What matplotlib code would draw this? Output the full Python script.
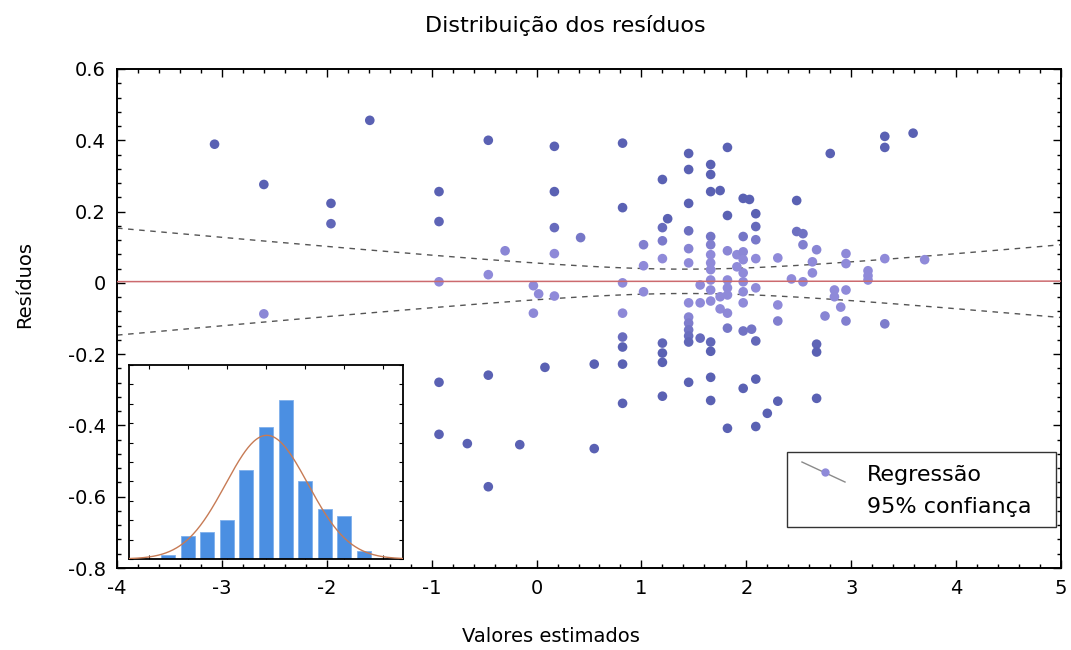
import numpy as np
import matplotlib
matplotlib.use("Agg")
import matplotlib.pyplot as plt
from matplotlib.ticker import MultipleLocator, FuncFormatter
from matplotlib.patches import Rectangle
from matplotlib.lines import Line2D
from matplotlib.colors import LinearSegmentedColormap

plt.rcParams['font.family'] = ['DejaVu Sans']
plt.rcParams['axes.unicode_minus'] = False

# ---- data: fitted values (x) and residuals (y) ----
fitted = [
    -3.07, -2.60, -2.60, -1.96, -1.96, -1.59,
    -0.93, -0.93, -0.93, -0.93, -0.93, -0.66,
    -0.46, -0.46, -0.46, -0.46, -0.30, -0.16,
    -0.03, -0.03, 0.02, 0.08,
    0.17, 0.17, 0.17, 0.17, 0.17, 0.42, 0.55, 0.55,
    0.82, 0.82, 0.82, 0.82, 0.82, 0.82, 0.82, 0.82,
    1.02, 1.02, 1.02,
    1.20, 1.20, 1.20, 1.20, 1.20, 1.20, 1.20, 1.20, 1.25,
    1.45, 1.45, 1.45, 1.45, 1.45, 1.45, 1.45, 1.45, 1.45, 1.45, 1.45, 1.45, 1.45,
    1.56, 1.56, 1.56,
    1.66, 1.66, 1.66, 1.66, 1.66, 1.66, 1.66, 1.66, 1.66, 1.66, 1.66, 1.66, 1.66, 1.66, 1.66,
    1.75, 1.75, 1.75,
    1.82, 1.82, 1.82, 1.82, 1.82, 1.82, 1.82, 1.82, 1.82,
    1.91, 1.91,
    1.97, 1.97, 1.97, 1.97, 1.97, 1.97, 1.97, 1.97, 1.97, 1.97,
    2.03, 2.05,
    2.09, 2.09, 2.09, 2.09, 2.09, 2.09, 2.09, 2.09,
    2.20,
    2.30, 2.30, 2.30, 2.30,
    2.43, 2.48, 2.48, 2.54, 2.54, 2.54, 2.63, 2.63,
    2.67, 2.67, 2.67, 2.67, 2.75, 2.80, 2.84, 2.84, 2.90,
    2.95, 2.95, 2.95, 2.95,
    3.16, 3.16, 3.16,
    3.32, 3.32, 3.32, 3.32, 3.59, 3.70,
]
residuals = [
    0.389, 0.276, -0.087, 0.223, 0.166, 0.456,
    0.256, 0.172, 0.003, -0.279, -0.425, -0.451,
    0.400, 0.023, -0.259, -0.572, 0.090, -0.454,
    -0.008, -0.085, -0.031, -0.237,
    0.383, 0.256, 0.155, 0.082, -0.037, 0.127, -0.228, -0.465,
    0.392, 0.211, 0.000, -0.085, -0.152, -0.180, -0.228, -0.338,
    0.107, 0.048, -0.025,
    0.290, 0.155, 0.118, 0.068, -0.169, -0.197, -0.223, -0.318, 0.180,
    0.363, 0.318, 0.223, 0.146, 0.096, 0.056, -0.056, -0.096, -0.113, -0.132, -0.149, -0.166, -0.279,
    -0.006, -0.056, -0.155,
    0.332, 0.304, 0.256, 0.130, 0.107, 0.079, 0.056, 0.037, 0.008, -0.020, -0.051, -0.166, -0.192, -0.265, -0.330,
    0.259, -0.039, -0.073,
    0.380, 0.189, 0.090, 0.008, -0.014, -0.034, -0.085, -0.127, -0.408,
    0.079, 0.045,
    0.237, 0.130, 0.087, 0.065, 0.028, 0.003, -0.025, -0.056, -0.135, -0.296,
    0.234, -0.130,
    0.194, 0.158, 0.121, 0.068, -0.014, -0.163, -0.270, -0.403,
    -0.366,
    0.070, -0.062, -0.107, -0.332,
    0.011, 0.231, 0.144, 0.138, 0.107, 0.003, 0.059, 0.028,
    0.093, -0.172, -0.194, -0.324, -0.093, 0.363, -0.020, -0.039, -0.068,
    0.082, 0.054, -0.020, -0.107,
    0.034, 0.020, 0.008,
    0.411, 0.380, 0.068, -0.115, 0.420, 0.065,
]

# inset histogram of residuals (bin centres and counts)
hist_centers = [-0.5, -0.4, -0.3, -0.2, -0.1, 0.0, 0.1, 0.2, 0.3, 0.4, 0.5]
hist_counts = [1, 6, 7, 10, 23, 34, 41, 20, 13, 11, 2]
hist_binwidth = 0.1

title = "Distribuição dos resíduos"
xlabel = "Valores estimados"
ylabel = "Resíduos"
legend_labels = ["Regressão", "95% confiança"]

x = np.array(fitted)
y = np.array(residuals)

W, H = 1071, 650
fig = plt.figure(figsize=(W / 100, H / 100), dpi=100)
fig.patch.set_facecolor('white')

def px_axes(l, t, r, b):
    return [l / W, 1 - b / H, (r - l) / W, (b - t) / H]

ax = fig.add_axes(px_axes(117, 69, 1061, 568))

# colours: darker for points far from zero, lighter near the line
cmap = LinearSegmentedColormap.from_list('pts', ['#8f8ad9', '#5a61b3'])
shade = np.clip((np.abs(y) - 0.08) / 0.1, 0, 1)
ax.scatter(x, y, s=48, c=cmap(shade), edgecolors='none', zorder=3)

# regression line and 95% confidence band computed from the data
n = len(x)
slope, intercept = np.polyfit(x, y, 1)
xx = np.linspace(-4, 5, 300)
yy = intercept + slope * xx
res = y - (intercept + slope * x)
s = np.sqrt(np.sum(res ** 2) / (n - 2))
sxx = np.sum((x - x.mean()) ** 2)
hw = 1.976 * s * np.sqrt(1 / n + (xx - x.mean()) ** 2 / sxx)
ax.plot(xx, yy, color='#cc6a6e', lw=1.1, zorder=4)
ax.plot(xx, yy + hw, color='#555555', lw=1.0, ls=(0, (4, 4)), zorder=2)
ax.plot(xx, yy - hw, color='#555555', lw=1.0, ls=(0, (4, 4)), zorder=2)

ax.set_xlim(-4, 5)
ax.set_ylim(-0.8, 0.6)
ax.xaxis.set_major_locator(MultipleLocator(1))
ax.xaxis.set_minor_locator(MultipleLocator(0.2))
ax.yaxis.set_major_locator(MultipleLocator(0.2))
ax.yaxis.set_minor_locator(MultipleLocator(0.04))
fmt = FuncFormatter(lambda v, p: f"{round(v, 2):g}")
ax.xaxis.set_major_formatter(fmt)
ax.yaxis.set_major_formatter(fmt)
ax.tick_params(which='both', direction='in', top=True, right=True, width=1)
ax.tick_params(which='major', length=6, labelsize=14, pad=8)
ax.tick_params(which='minor', length=3)
for sp in ax.spines.values():
    sp.set_linewidth(1.4)

fig.text(565 / W, 1 - 25 / H, title, ha='center', va='center', fontsize=16)
fig.text(551 / W, 1 - 636 / H, xlabel, ha='center', va='center', fontsize=14)
fig.text(25 / W, 1 - 285 / H, ylabel, ha='center', va='center', fontsize=14, rotation=90)

# legend drawn by hand in axes coordinates
ax.add_patch(Rectangle((0.7097, 0.0822), 0.285, 0.1503, transform=ax.transAxes,
                       facecolor='white', edgecolor='#333333', lw=1.0, zorder=6))
ax.add_line(Line2D([0.7256, 0.7712], [0.2124, 0.1723], transform=ax.transAxes,
                   color='#8a8a8a', lw=1.0, zorder=7))
ax.add_line(Line2D([0.75], [0.1924], transform=ax.transAxes, marker='o', ms=6,
                   color='#8f8ad9', mec='none', zorder=8))
ax.text(0.7945, 0.1864, legend_labels[0], transform=ax.transAxes, fontsize=16,
        va='center', ha='left', zorder=8)
ax.text(0.7945, 0.1222, legend_labels[1], transform=ax.transAxes, fontsize=16,
        va='center', ha='left', zorder=8)

# inset histogram
axi = fig.add_axes(px_axes(129, 365, 403, 559))
axi.bar(hist_centers, hist_counts, width=0.072, color='#4b8fe2', edgecolor='#7fb0ec',
        lw=0.6, zorder=2)
mu, sd = y.mean(), y.std()
xc = np.linspace(-0.7, 0.7, 300)
yc = np.sum(hist_counts) * hist_binwidth / (sd * np.sqrt(2 * np.pi)) * np.exp(-0.5 * ((xc - mu) / sd) ** 2)
axi.plot(xc, yc, color='#c77b55', lw=1.0, zorder=3)
axi.set_xlim(-0.7, 0.7)
axi.set_ylim(0, 50)
axi.xaxis.set_major_locator(plt.FixedLocator([-0.6, -0.4, -0.2, 0, 0.2, 0.4, 0.6]))
axi.yaxis.set_major_locator(MultipleLocator(5))
axi.tick_params(which='both', direction='in', top=True, right=True, length=3,
                labelleft=False, labelbottom=False)
for sp in axi.spines.values():
    sp.set_linewidth(1.3)

fig.savefig('out.png', dpi=100, facecolor='white')
